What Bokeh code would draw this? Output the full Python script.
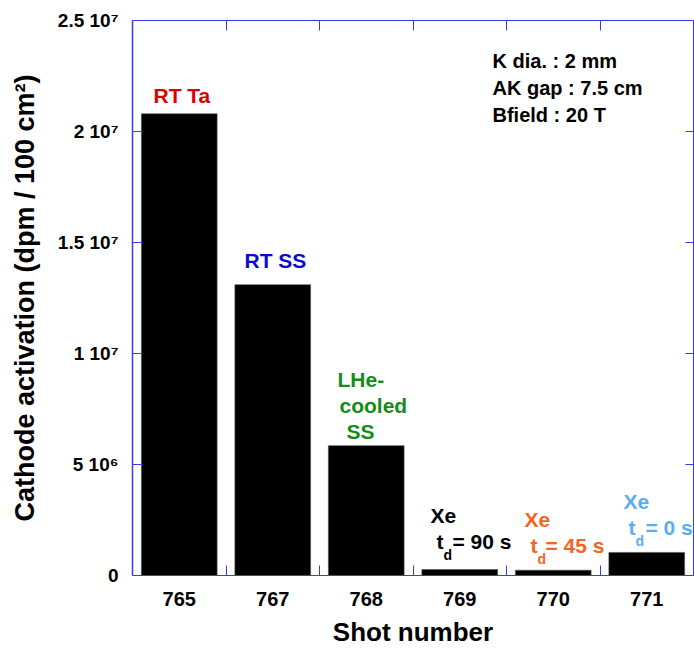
from bokeh.plotting import figure
from bokeh.models import Range1d, LinearAxis, FixedTicker, Label, ColumnDataSource
from bokeh.embed import file_html
from bokeh.resources import INLINE

# ---- data ----
shots = ["765", "767", "768", "769", "770", "771"]
activation = [2.08e7, 1.31e7, 5.85e6, 2.7e5, 2.4e5, 1.04e6]
y_tick_values = [0, 5e6, 1e7, 1.5e7, 2e7, 2.5e7]
y_tick_labels = ["0", "5 10\u2076", "1 10\u2077", "1.5 10\u2077", "2 10\u2077", "2.5 10\u2077"]

# ---- layout ----
CW, CH = 694, 651
L, R, T, B = 132, 693, 20, 575
W, H = R - L, B - T
n = len(shots)
YMAX = 2.5e7
AX = "#3a3aee"
FONT = "Liberation Sans"

p = figure(width=CW, height=CH, x_range=Range1d(0, n), y_range=Range1d(0, YMAX),
           output_backend="svg", toolbar_location=None,
           x_axis_location=None, y_axis_location=None,
           min_border_left=L, min_border_right=CW - R, min_border_top=T, min_border_bottom=CH - B)
p.xgrid.visible = False
p.ygrid.visible = False
p.outline_line_color = None
p.background_fill_color = "white"
p.border_fill_color = "white"

# category slots: shot i occupies [i, i+1]
centers = [i + 0.5 for i in range(n)]
bounds = list(range(1, n))
src = ColumnDataSource(dict(x=centers, shot=shots, top=activation))
p.vbar(x="x", top="top", width=0.81, source=src, fill_color="black", line_color="#555555", line_width=0.6)


def hide_labels(ax):
    ax.major_label_text_font_size = "0px"
    ax.major_label_text_color = None
    ax.major_label_standoff = 0
    ax.axis_label = None


bottom = LinearAxis(ticker=FixedTicker(ticks=centers, minor_ticks=bounds),
                    major_label_overrides={c: s for c, s in zip(centers, shots)})
bottom.major_tick_in = 0
bottom.major_tick_out = 0
bottom.minor_tick_in = 10
bottom.minor_tick_out = 0
bottom.axis_line_color = AX
bottom.minor_tick_line_color = AX
bottom.major_label_text_font = FONT
bottom.major_label_text_font_style = "bold"
bottom.major_label_text_font_size = "20px"
bottom.major_label_text_color = "black"
bottom.major_label_standoff = 16
bottom.axis_label = "Shot number"
bottom.axis_label_text_font = FONT
bottom.axis_label_text_font_style = "bold"
bottom.axis_label_text_font_size = "26px"
bottom.axis_label_text_color = "black"
bottom.axis_label_standoff = 8
p.add_layout(bottom, "below")

top = LinearAxis(ticker=FixedTicker(ticks=bounds))
top.major_tick_in = 10
top.major_tick_out = 0
top.axis_line_color = AX
top.major_tick_line_color = AX
hide_labels(top)
p.add_layout(top, "above")

left = LinearAxis(ticker=FixedTicker(ticks=y_tick_values),
                  major_label_overrides={v: s for v, s in zip(y_tick_values, y_tick_labels)})
left.major_tick_in = 10
left.major_tick_out = 0
left.axis_line_color = AX
left.axis_line_width = 1.5
left.major_tick_line_color = AX
left.major_label_text_font = FONT
left.major_label_text_font_style = "bold"
left.major_label_text_font_size = "19px"
left.major_label_text_color = "black"
left.major_label_standoff = 14
left.axis_label = "Cathode activation (dpm / 100 cm\u00b2)"
left.axis_label_text_font = FONT
left.axis_label_text_font_style = "bold"
left.axis_label_text_font_size = "27px"
left.axis_label_text_color = "black"
left.axis_label_standoff = 15
p.add_layout(left, "left")

right = LinearAxis(ticker=FixedTicker(ticks=y_tick_values))
right.major_tick_in = 8
right.major_tick_out = 0
right.axis_line_color = AX
right.major_tick_line_color = AX
hide_labels(right)
p.add_layout(right, "right")


def txt(xp, yp, s, color="black", size=21):
    # xp, yp: left edge and baseline of the text in picture pixels
    yb = yp - 0.4 * size
    p.add_layout(Label(x=(xp - L) / W * n, y=(B - yb) / H * YMAX, text=s, text_color=color,
                       text_font=FONT, text_font_style="bold", text_font_size=f"{size}px",
                       text_align="left", text_baseline="alphabetic"))


# info block
txt(492, 68, "K dia. : 2 mm", size=20)
txt(492, 95, "AK gap : 7.5 cm", size=20)
txt(492, 122, "Bfield : 20 T", size=20)

# bar annotations
RED, BLUE, GREEN, ORANGE, LBLUE = "#dd0000", "#0a0acc", "#168c16", "#f26522", "#5aaef5"
txt(153, 103, "RT Ta", RED)
txt(244, 268, "RT SS", BLUE)
txt(337, 387, "LHe-", GREEN)
txt(339, 413, "cooled", GREEN)
txt(346, 439, "SS", GREEN)


def xe(x0, ybl, tx, tbl, eqx, eqtext, color):
    txt(x0, ybl, "Xe", color)
    txt(tx, tbl, "t", color)
    txt(tx + 7, tbl + 11, "d", color, size=14)
    txt(eqx, tbl, eqtext, color)


xe(430, 523, 436, 549, 452, "= 90 s", "black")
xe(524, 527, 530, 553, 545, "= 45 s", ORANGE)
xe(623, 509, 628, 535, 645, "= 0 s", LBLUE)

open("out.html", "w").write(file_html(p, INLINE))
